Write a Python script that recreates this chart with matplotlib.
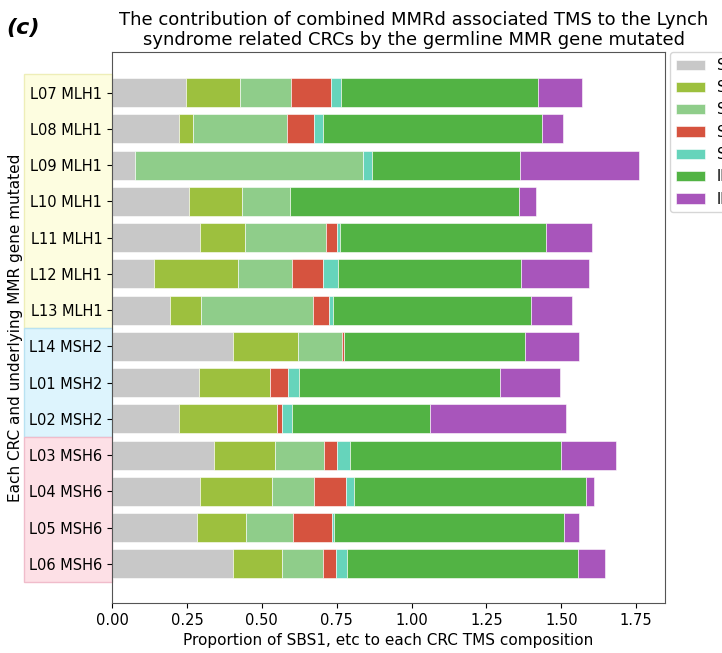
import matplotlib
matplotlib.use("Agg")
import matplotlib.pyplot as plt
import matplotlib.transforms as mtransforms
from matplotlib.patches import Rectangle
import numpy as np

samples = ["L07 MLH1", "L08 MLH1", "L09 MLH1", "L10 MLH1", "L11 MLH1", "L12 MLH1",
           "L13 MLH1", "L14 MSH2", "L01 MSH2", "L02 MSH2", "L03 MSH6", "L04 MSH6",
           "L05 MSH6", "L06 MSH6"]

signatures = ["SBS1", "SBS5", "SBS6", "SBS15", "SBS26", "ID1", "ID2"]

sbs1 = [0.246, 0.224, 0.077, 0.257, 0.294, 0.141, 0.193, 0.403, 0.291, 0.223, 0.342, 0.293, 0.284, 0.403]
sbs5 = [0.183, 0.047, 0.000, 0.176, 0.150, 0.279, 0.103, 0.217, 0.235, 0.329, 0.201, 0.242, 0.162, 0.163]
sbs6 = [0.169, 0.312, 0.761, 0.162, 0.270, 0.182, 0.376, 0.148, 0.000, 0.000, 0.166, 0.139, 0.157, 0.139]
sbs15 = [0.134, 0.091, 0.000, 0.000, 0.037, 0.103, 0.052, 0.008, 0.061, 0.015, 0.042, 0.106, 0.133, 0.044]
sbs26 = [0.032, 0.030, 0.031, 0.000, 0.009, 0.048, 0.013, 0.000, 0.038, 0.033, 0.042, 0.029, 0.006, 0.037]
id1 = [0.658, 0.731, 0.493, 0.762, 0.690, 0.612, 0.662, 0.602, 0.670, 0.460, 0.705, 0.774, 0.767, 0.770]
id2 = [0.146, 0.072, 0.396, 0.058, 0.152, 0.227, 0.136, 0.180, 0.202, 0.454, 0.184, 0.026, 0.049, 0.090]

genes = ["MLH1", "MSH2", "MSH6"]
gene_counts = [7, 3, 4]

colors = ["#c8c8c8", "#9dc03e", "#8fcd8a", "#d6533f", "#66d4bb", "#52b344", "#a855bb"]
group_fill = ["#fdfde0", "#ddf4fd", "#fde0e6"]
group_edge = ["#eeeeb8", "#b9e2f2", "#f0bccb"]

fig = plt.figure(figsize=(7.22, 6.53), dpi=100)
ax = fig.add_axes([0.1551, 0.0766, 0.7659, 0.8438])

y = np.arange(len(samples))
series = [sbs1, sbs5, sbs6, sbs15, sbs26, id1, id2]
left = np.zeros(len(samples))
for vals, col, name in zip(series, colors, signatures):
    vals = np.asarray(vals)
    ax.barh(y, vals, left=left, height=0.8, color=col, label=name,
            edgecolor="white", linewidth=0.4)
    left = left + vals

ax.set_yticks(y)
ax.set_yticklabels(samples, fontsize=10.5)
ax.set_ylim(len(samples) - 1 + 1.08, -1.12)
ax.set_xlim(0, left.max() * 1.05)
ax.set_xticks(np.arange(0, 1.76, 0.25))
ax.set_xticklabels([f"{v:.2f}" for v in np.arange(0, 1.76, 0.25)], fontsize=10.5)
ax.set_xlabel("Proportion of SBS1, etc to each CRC TMS composition", fontsize=11)
ax.set_ylabel("Each CRC and underlying MMR gene mutated", fontsize=11, labelpad=4)
for s in ax.spines.values():
    s.set_color("#555555")

# shaded panels behind the tick labels, one per mutated gene
trans = mtransforms.blended_transform_factory(ax.transAxes, ax.transData)
start = 0
for n, fc, ec in zip(gene_counts, group_fill, group_edge):
    r = Rectangle((-0.159, start - 0.5), 0.159, n, transform=trans,
                  facecolor=fc, edgecolor=ec, linewidth=1.0,
                  clip_on=False, zorder=-1)
    ax.add_patch(r)
    start += n

ax.legend(loc="upper left", bbox_to_anchor=(1.009, 1.0), fontsize=10.5,
          frameon=True, borderaxespad=0, handlelength=2.0)

fig.text(414 / 722, 1 - 30 / 653,
         "The contribution of combined MMRd associated TMS to the Lynch\n"
         "syndrome related CRCs by the germline MMR gene mutated",
         ha="center", va="center", fontsize=13, linespacing=1.1)
fig.text(6 / 722, 1 - 28 / 653, "(c)", fontsize=16, fontweight="bold",
         fontstyle="italic", ha="left", va="center")

fig.savefig("out.png", dpi=100)
